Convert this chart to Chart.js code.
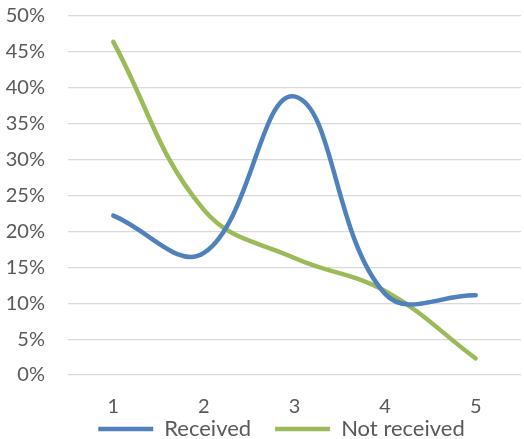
<!DOCTYPE html>
<html>
<head>
<meta charset="utf-8">
<script src="https://cdn.jsdelivr.net/npm/chart.js@4"></script>
<style>
  html, body { margin: 0; padding: 0; background: #fff; }
  #wrap { width: 524px; height: 439px; }
</style>
</head>
<body>
<div id="wrap"><canvas id="c" width="524" height="439"></canvas></div>
<script>
// Categories along the x axis
const categories = ['1', '2', '3', '4', '5'];
// Share of respondents per category (fractions)
const received = [0.222, 0.170, 0.388, 0.113, 0.111];
const notReceived = [0.464, 0.230, 0.163, 0.117, 0.023];
// Y axis tick range
const yMin = 0, yMax = 0.5, yStep = 0.05;

const textColor = '#595959';
const fontFamily = 'Lato, "Liberation Sans", sans-serif';

// Legend sits tight under the axis labels, centred under the plot
const legendPlacement = {
  id: 'legendPlacement',
  afterLayout(chart) {
    const lg = chart.legend;
    const pad = lg.options.labels.padding;
    const size = lg.options.labels.font.size;
    const textMid = chart.height - 10;
    lg.top = textMid - pad - size / 2;
    lg.bottom = chart.height;
    lg.height = lg.bottom - lg.top;
    const shift = (chart.chartArea.left + chart.chartArea.right) / 2 - (lg.left + lg.right) / 2 - 13;
    lg.left += shift;
    lg.right += shift;
  }
};

new Chart(document.getElementById('c'), {
  type: 'line',
  data: {
    labels: categories,
    datasets: [
      {
        label: 'Received',
        data: received,
        borderColor: '#4F81BD',
        backgroundColor: '#4F81BD',
        borderWidth: 4.5,
        tension: 0.4,
        pointRadius: 0,
        borderCapStyle: 'round',
        fill: false
      },
      {
        label: 'Not received',
        data: notReceived,
        borderColor: '#9BBB59',
        backgroundColor: '#9BBB59',
        borderWidth: 4.5,
        tension: 0.4,
        pointRadius: 0,
        borderCapStyle: 'round',
        fill: false
      }
    ]
  },
  plugins: [legendPlacement],
  options: {
    responsive: false,
    animation: false,
    layout: { padding: { top: 0, right: 3, left: 0, bottom: 0 } },
    plugins: {
      tooltip: { enabled: false },
      legend: {
        position: 'bottom',
        maxHeight: 24,
        labels: {
          usePointStyle: true,
          pointStyle: 'line',
          pointStyleWidth: 55,
          boxHeight: 4,
          padding: 24,
          color: textColor,
          font: { family: fontFamily, size: 22 }
        }
      }
    },
    scales: {
      x: {
        offset: true,
        grid: { display: false },
        border: { display: false },
        ticks: { color: textColor, font: { family: fontFamily, size: 20, lineHeight: 1 }, padding: 14 },
        afterFit: s => { s.height = 40; }
      },
      y: {
        min: yMin,
        max: yMax,
        grid: { color: '#D9D9D9', lineWidth: 1.2, drawTicks: false },
        border: { display: false },
        ticks: {
          stepSize: yStep,
          color: textColor,
          font: { family: fontFamily, size: 20 },
          padding: 23,
          callback: v => Math.round(v * 100) + '%'
        },
        afterFit: s => {
          s.width = 68;
          // keep only half a label of room above the top gridline
          s.paddingTop = 16;
          s.paddingBottom = 12;
        }
      }
    }
  }
});
</script>
</body>
</html>
